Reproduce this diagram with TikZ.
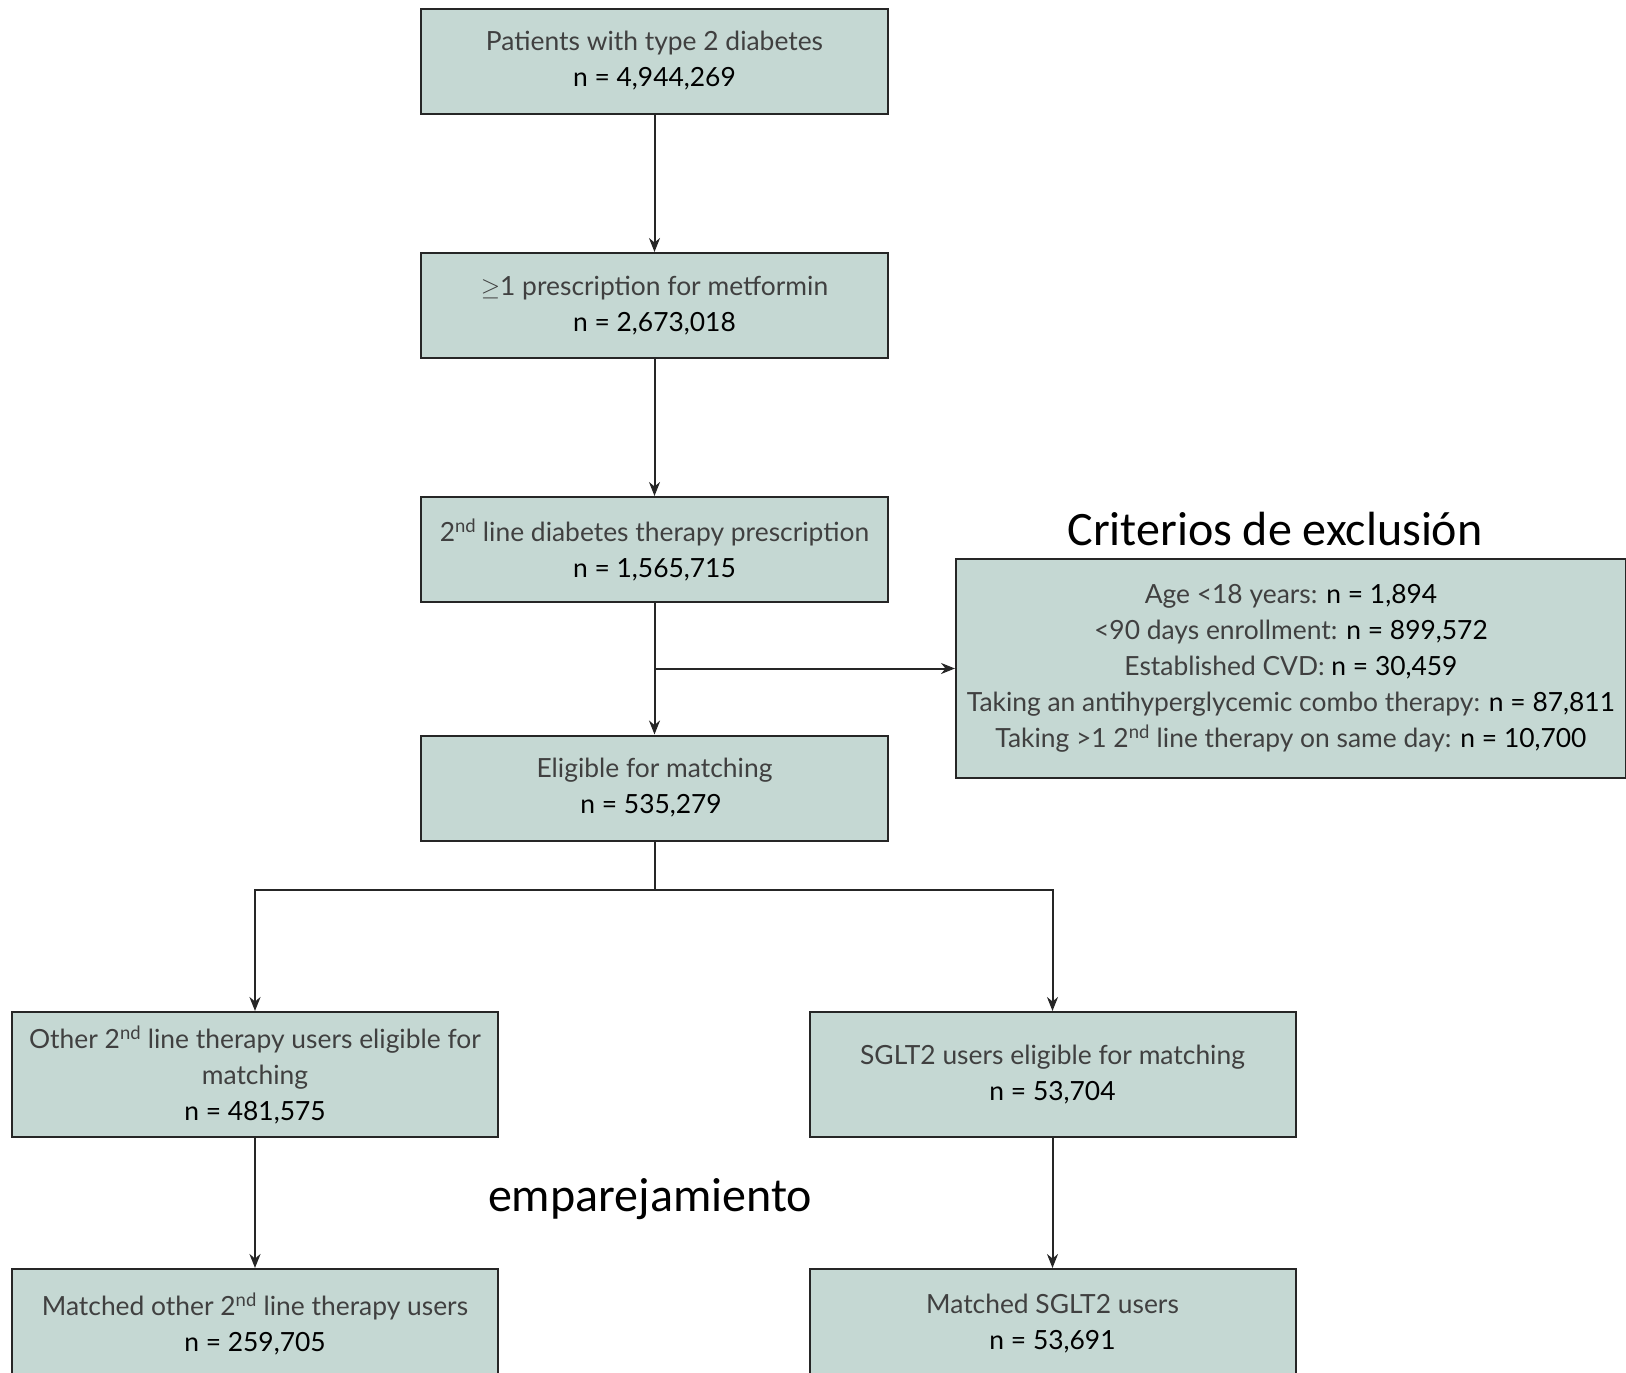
\documentclass[tikz,border=0pt]{standalone}
\usepackage{fontspec}
\setmainfont{Lato}
\newfontfamily\calibrifont{Carlito}
\usetikzlibrary{positioning,arrows.meta}
\definecolor{boxgreen}{HTML}{C5D8D3}
\definecolor{edgegray}{HTML}{262626}
\definecolor{textgray}{HTML}{404040}
\newcommand{\ncount}[1]{{\color{black}#1}}

\begin{document}
\begin{tikzpicture}[
		x=1pt,
		y=-1pt,
		>={Stealth[length=14pt,width=11pt]},
		every node/.style={font=\fontsize{26.4}{36}\selectfont},
		flowbox/.style={draw=edgegray, line width=2pt, fill=boxgreen,
			align=center, text=textgray, inner sep=0pt},
		link/.style={edgegray, line width=2pt}
	]
		\useasboundingbox (0,0) rectangle (1626,1373);
		\clip (0,0) rectangle (1626,1373);

		% main column
		\foreach \name/\y/\label/\num in {
			patients/61/{Patients with type 2 diabetes}/{4,944,269},
			metformin/305.5/{$\geq$1 prescription for metformin}/{2,673,018},
			secline/549.5/{2\textsuperscript{nd} line diabetes therapy prescription}/{1,565,715},
			eligible/788/{Eligible for matching}/{535,279}
		}{
			\node[flowbox, minimum width=467, minimum height=105]
				(\name) at (654.5,\y) {\label\\\ncount{n = \num}};
		}

		\draw[link, ->] (patients) -- (metformin);
		\draw[link, ->] (metformin) -- (secline);
		\draw[link, ->] (secline) -- (eligible);

		% exclusion criteria
		\node[flowbox, minimum width=670, minimum height=219]
			(exclusion) at (1291,668.5) {
				Age <18 years: \ncount{n = 1,894}\\
				<90 days enrollment: \ncount{n = 899,572}\\
				Established CVD: \ncount{n = 30,459}\\
				Taking an antihyperglycemic combo therapy: \ncount{n = 87,811}\\
				Taking >1 2\textsuperscript{nd} line therapy on same day: \ncount{n = 10,700}
			};
		\node[anchor=base, font=\calibrifont\fontsize{48}{56}\selectfont]
			(exctitle) at (1275,545) {Criterios de exclusión};

		\coordinate (excsplit) at (secline.south |- exclusion.west);
		\draw[link, ->] (excsplit) -- (exclusion);

		% two arms
		\node[flowbox, minimum width=486, minimum height=125]
			(othereligible) at (255,1074.5) {Other 2\textsuperscript{nd} line therapy users eligible for\\matching\\\ncount{n = 481,575}};
		\node[flowbox, minimum width=486, minimum height=125]
			(sglteligible) at (1052.5,1074.5) {SGLT2 users eligible for matching\\\ncount{n = 53,704}};

		\coordinate (fork) at (654.5,890);
		\draw[link] (eligible) -- (fork);
		\draw[link, ->] (fork) -| (othereligible);
		\draw[link, ->] (fork) -| (sglteligible);

		\node[anchor=north, flowbox, minimum width=486, minimum height=110]
			(othermatched) at (255,1268) {Matched other 2\textsuperscript{nd} line therapy users\\\ncount{n = 259,705}};
		\node[anchor=north, flowbox, minimum width=486, minimum height=110]
			(sgltmatched) at (1052.5,1268) {Matched SGLT2 users\\\ncount{n = 53,691}};

		\draw[link, ->] (othereligible) -- (othermatched);
		\draw[link, ->] (sglteligible) -- (sgltmatched);

		\node[anchor=base, font=\calibrifont\fontsize{48}{56}\selectfont]
			(matchlabel) at (650,1211) {emparejamiento};
\end{tikzpicture}
\end{document}
